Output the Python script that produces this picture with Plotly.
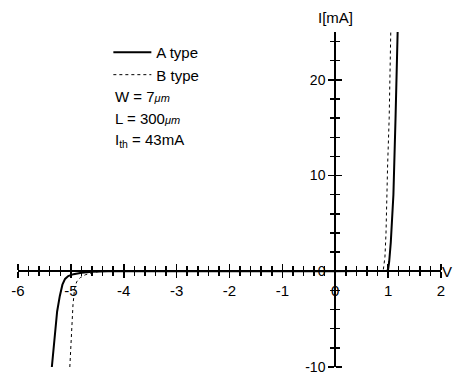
import plotly.graph_objects as go

# A type (solid) I-V curve, V in volts, I in mA
a_v = [-5.36, -5.31, -5.26, -5.21, -5.16, -5.11, -5.05, -4.95, -4.8, -4.6, -4.3, 0.0, 0.9, 0.98, 1.0, 1.02, 1.05, 1.08, 1.10, 1.14, 1.18]
a_i = [-10.0, -7.0, -4.2, -2.6, -1.4, -0.8, -0.5, -0.3, -0.15, -0.06, 0.0, 0.0, 0.0, 0.05, 0.2, 1.0, 3.0, 5.5, 8.0, 16.0, 25.0]

# B type (dashed) I-V curve
b_v = [-5.02, -4.99, -4.96, -4.93, -4.89, -4.82, -4.72, -4.6, -4.45, 0.0, 0.85, 0.91, 0.94, 0.96, 0.97, 0.99, 1.02, 1.05]
b_i = [-10.0, -6.5, -3.5, -1.8, -1.1, -0.65, -0.35, -0.15, 0.0, 0.0, 0.0, 0.2, 1.5, 4.0, 7.0, 11.0, 16.0, 25.0]

x_ticks = [-6, -5, -4, -3, -2, -1, 0, 1, 2]
y_ticks = [-10, 0, 10, 20]

XR = [-6, 2]
YR = [-10, 25]
xpos = (0 - YR[0]) / (YR[1] - YR[0])
ypos = (0 - XR[0]) / (XR[1] - XR[0])

FONT = "Arial, Liberation Sans, sans-serif"

W_FIG, H_FIG = 458, 386
ML, MR, MT, MB = 15, 17, 32, 11
PW = W_FIG - ML - MR
PH = H_FIG - MT - MB

fig = go.Figure()
fig.add_trace(go.Scatter(x=a_v, y=a_i, mode="lines", name="A type",
                         line=dict(color="black", width=2)))
fig.add_trace(go.Scatter(x=b_v, y=b_i, mode="lines", name="B type",
                         line=dict(color="black", width=1, dash="3px,3px")))
# empty trace to attach the second (tick-only) axes
fig.add_trace(go.Scatter(x=[None], y=[None], xaxis="x2", yaxis="y2", showlegend=False))

axis_common = dict(showgrid=False, zeroline=False, showline=True, linecolor="black",
                   linewidth=2, tickcolor="black", tickwidth=1.5, ticks="outside", ticklen=6,
                   ticklabeloverflow="allow", fixedrange=True)

fig.update_layout(
    width=W_FIG, height=H_FIG,
    margin=dict(l=ML, r=MR, t=MT, b=MB),
    paper_bgcolor="white", plot_bgcolor="white",
    font=dict(family=FONT, size=15, color="black"),
    hovermode=False,
    xaxis=dict(range=XR, anchor="free", position=xpos, side="bottom",
               tickvals=x_ticks, ticktext=[str(v) for v in x_ticks],
               minor=dict(dtick=0.2, ticklen=4, tickcolor="black", tickwidth=1.5, ticks="outside"),
               **axis_common),
    xaxis2=dict(range=XR, anchor="free", position=xpos, side="top", overlaying="x",
                tickvals=x_ticks, showticklabels=False,
                minor=dict(dtick=0.2, ticklen=4, tickcolor="black", tickwidth=1.5, ticks="outside"),
                **axis_common),
    yaxis=dict(range=YR, anchor="free", position=ypos, side="left",
               tickvals=y_ticks, ticktext=[str(v) for v in y_ticks],
               tickfont=dict(size=14),
               minor=dict(dtick=2, ticklen=4, tickcolor="black", tickwidth=1.5, ticks="outside"),
               **axis_common),
    yaxis2=dict(range=YR, anchor="free", position=ypos, side="right", overlaying="y",
                tickvals=y_ticks, showticklabels=False,
                minor=dict(dtick=2, ticklen=4, tickcolor="black", tickwidth=1.5, ticks="outside"),
                **axis_common),
    showlegend=True,
    legend=dict(x=(106 - ML) / PW, y=1 - 4 / PH, xanchor="left", yanchor="top",
                bgcolor="rgba(0,0,0,0)",
                font=dict(family=FONT, size=15), itemwidth=38, traceorder="normal"),
)

fig.add_annotation(x=1.0, y=xpos, xref="paper", yref="paper", text="V", showarrow=False,
                   xanchor="left", yanchor="middle", xshift=-1, font=dict(size=15))
fig.add_annotation(x=ypos, y=1.0, xref="paper", yref="paper", text="I[mA]", showarrow=False,
                   xanchor="center", yanchor="bottom", yshift=4, font=dict(size=15))

notes = ["W = 7<i><span style='font-size:11px'>μm</span></i>",
         "L = 300<i><span style='font-size:11px'>μm</span></i>",
         "I<sub>th</sub> = 43mA"]
note_y = [98, 121, 143]  # rows in the reference picture
for t, py in zip(notes, note_y):
    fig.add_annotation(x=(111 - ML) / PW, y=1 - (py - MT) / PH,
                       xref="paper", yref="paper",
                       text=t, showarrow=False, xanchor="left", yanchor="middle",
                       font=dict(size=15))

# remove the default 8px page margin so the figure fills the window exactly
fig.write_html("out.html",
               config={"displayModeBar": False, "staticPlot": True},
               post_script="document.body.style.margin='0';document.body.style.overflow='hidden';")
